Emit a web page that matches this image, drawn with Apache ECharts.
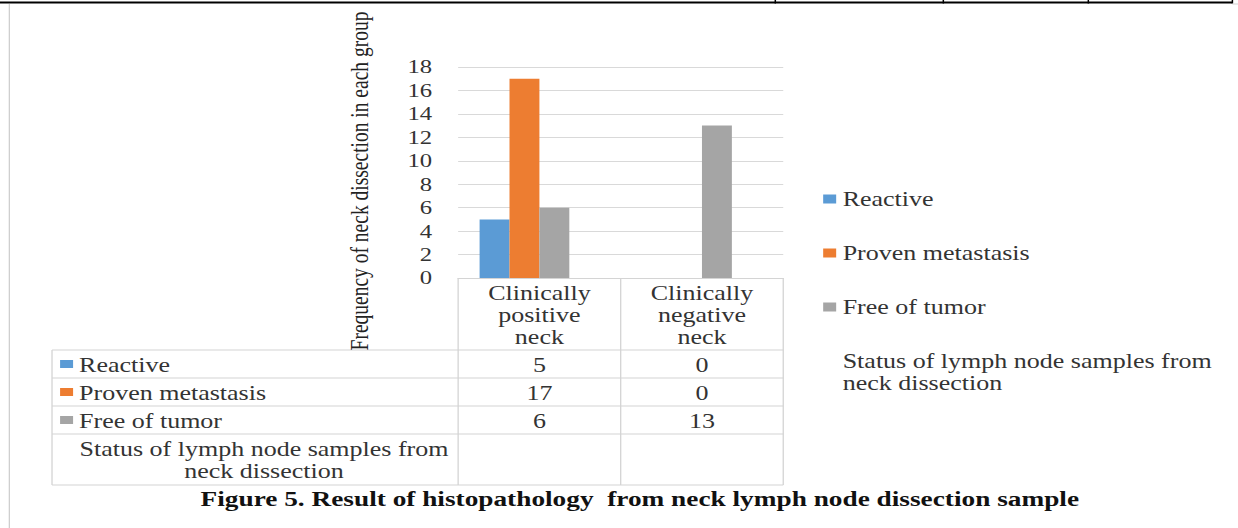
<!DOCTYPE html>
<html><head><meta charset="utf-8">
<script src="https://cdn.jsdelivr.net/npm/echarts@6/dist/echarts.min.js"></script>
<style>
html,body{margin:0;padding:0;background:#fff;overflow:hidden;width:1238px;height:528px}
#c{position:absolute;left:0;top:0;width:952px;height:528px;transform:scaleX(1.30042);transform-origin:0 0;}
</style></head><body><div id="c"></div>
<script>
// ---- data ----
const categories = ['Clinically positive neck', 'Clinically negative neck'];
const seriesNames = ['Reactive', 'Proven metastasis', 'Free of tumor', 'Status of lymph node samples from neck dissection'];
const reactive = [5, 0];
const provenMetastasis = [17, 0];
const freeOfTumor = [6, 13];
const statusRow = [null, null];
const yMin = 0, yMax = 18, yInterval = 2;
const yAxisTitle = 'Frequency of neck dissection in each group';
const captionText = 'Figure 5. Result of histopathology  from neck lymph node dissection sample';
const colors = ['#5b9bd5', '#ed7d31', '#a5a5a5', 'rgba(0,0,0,0)'];

// ---- layout (ECharts space; page is stretched horizontally) ----
const FONT = "'Liberation Serif','Times New Roman',serif";
const TXT = '#333333';
const LINE = '#d4d4d4';
const gridLeft = 352.3, gridWidth = 250, gridTop = 67, gridHeight = 211;
const tableLeft = 40;
const rowLines = [350, 378, 406, 434, 485];

function wrapStatus(s) { return s.replace(' neck dissection', '\nneck dissection'); }

const allSeries = [reactive, provenMetastasis, freeOfTumor, statusRow];

const chart = echarts.init(document.getElementById('c'), null, { renderer: 'svg' });
chart.setOption({
  animation: false,
  backgroundColor: '#ffffff',
  grid: { left: gridLeft, top: gridTop, width: gridWidth, height: gridHeight, containLabel: false },
  xAxis: {
    type: 'category', data: categories,
    axisLine: { lineStyle: { color: LINE, width: 1 } },
    axisTick: { show: false },
    axisLabel: {
      interval: 0, margin: 4, fontFamily: FONT, fontSize: 20, lineHeight: 22, color: TXT,
      formatter: v => v.split(' ').join('\n')
    },
    splitLine: { show: false }
  },
  yAxis: {
    type: 'value', min: yMin, max: yMax, interval: yInterval,
    axisLine: { show: false }, axisTick: { show: false },
    axisLabel: { margin: 20, fontFamily: FONT, fontSize: 19, color: TXT },
    splitLine: { lineStyle: { color: '#d9d9d9', width: 1 } }
  },
  legend: {
    orient: 'vertical', left: 628, top: 183, itemGap: 32, padding: 5,
    itemWidth: 10, itemHeight: 9, itemStyle: { borderWidth: 0 },
    icon: 'rect',
    textStyle: { fontFamily: FONT, fontSize: 20, lineHeight: 22, color: TXT },
    formatter: n => wrapStatus(n),
    data: seriesNames
  },
  series: seriesNames.map((n, i) => ({
    name: n, type: 'bar', data: allSeries[i],
    barWidth: 23, barGap: '0%',
    itemStyle: { color: colors[i] }
  }))
});

// ---- graphics: frame, data table, titles ----
const g = [];
function line(x1, y1, x2, y2, stroke, w) {
  g.push({ type: 'line', silent: true, shape: { x1, y1, x2, y2 }, style: { stroke, lineWidth: w } });
}
function text(x, y, t, opt) {
  g.push(Object.assign({ type: 'text', silent: true, x, y,
    style: Object.assign({ text: t, font: '20px ' + FONT, fill: TXT, align: 'left', verticalAlign: 'middle' }, opt || {}) }));
}
// page frame
line(0, 2.5, 947.7, 2.5, '#000', 2);
[596.2, 725.4, 836.9, 947.7].forEach(x => line(x, 0, x, 3.5, '#000', 1.15));
line(947.7, 4, 952, 4, '#d0d0d0', 1);
line(7.2, 4, 7.2, 528, '#cfcfcf', 1);

// table grid
const catW = gridWidth / categories.length;
const colX = [];
for (let i = 0; i <= categories.length; i++) colX.push(gridLeft + i * catW);
colX.forEach(x => line(x, gridTop + gridHeight, x, rowLines[rowLines.length - 1], LINE, 1));
rowLines.forEach(y => line(tableLeft, y, colX[colX.length - 1], y, LINE, 1));
line(tableLeft, rowLines[0], tableLeft, rowLines[rowLines.length - 1], LINE, 1);

// table rows
const keyX = 46.2, labelX = 60.8;
for (let s = 0; s < 3; s++) {
  const cy = (rowLines[s] + rowLines[s + 1]) / 2;
  g.push({ type: 'rect', silent: true, shape: { x: keyX, y: cy - 4, width: 10, height: 8 }, style: { fill: colors[s] } });
  text(labelX, cy + 1, seriesNames[s]);
  categories.forEach((c, ci) => {
    const px = chart.convertToPixel({ xAxisIndex: 0 }, c);
    text(px, cy + 1, String(allSeries[s][ci]), { align: 'center' });
  });
}
// status row label
text(203, (rowLines[3] + rowLines[4]) / 2 + 1, wrapStatus(seriesNames[3]), { align: 'center', lineHeight: 22 });

// y-axis title
g.push({ type: 'text', silent: true, x: 276.5, y: 181, rotation: Math.PI / 2,
  style: { text: yAxisTitle, font: '19.5px ' + FONT, fill: '#222', align: 'center', verticalAlign: 'middle' } });

// caption
text(492, 499, captionText, { align: 'center', font: 'bold 21px ' + FONT, fill: '#111' });

chart.setOption({ graphic: g });
</script>
</body></html>
